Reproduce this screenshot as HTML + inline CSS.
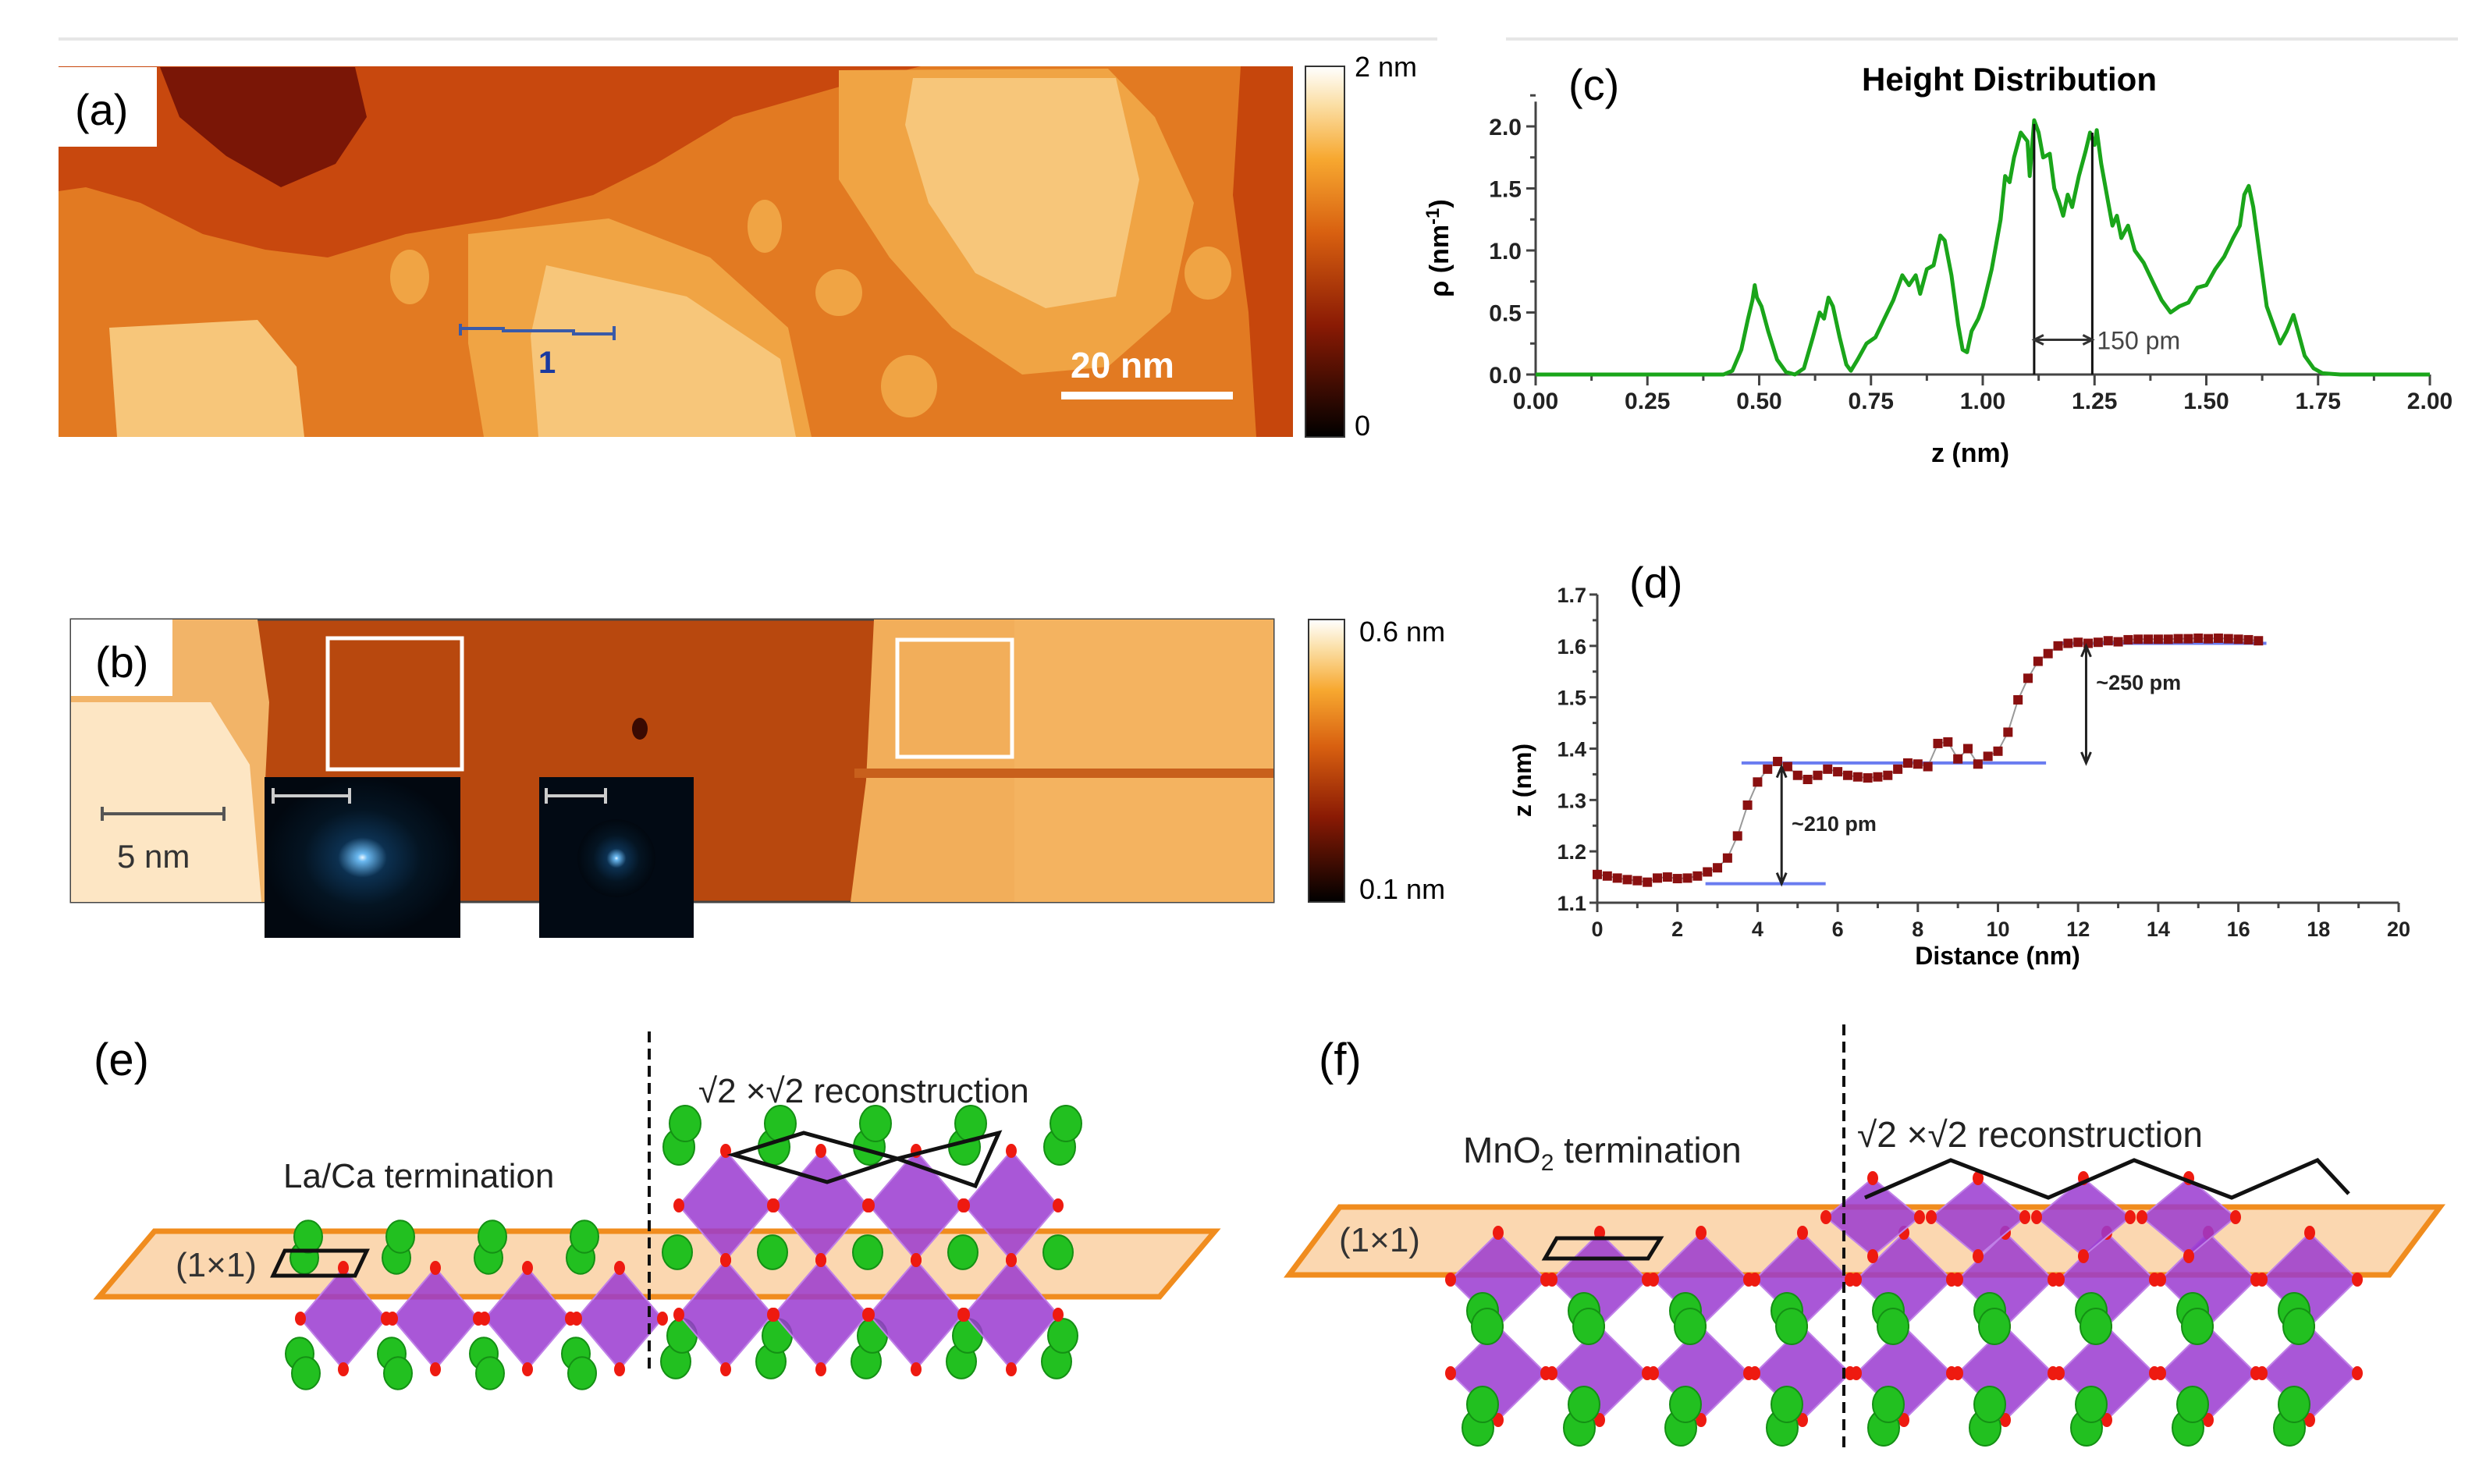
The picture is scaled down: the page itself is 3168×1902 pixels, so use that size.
<!DOCTYPE html>
<html><head><meta charset="utf-8"><style>
html,body{margin:0;padding:0;background:#fff}
svg{display:block}
text{font-family:"Liberation Sans",sans-serif}
</style></head><body>
<svg id="fig" width="3168" height="1902" viewBox="0 0 3168 1902" xmlns="http://www.w3.org/2000/svg">
<defs>
<linearGradient id="cbar" x1="0" y1="1" x2="0" y2="0">
<stop offset="0" stop-color="#000"/><stop offset="0.3" stop-color="#8a1a04"/><stop offset="0.55" stop-color="#d86010"/><stop offset="0.75" stop-color="#f7a830"/><stop offset="0.9" stop-color="#fbe0a8"/><stop offset="1" stop-color="#fff"/>
</linearGradient>
<radialGradient id="fft"><stop offset="0" stop-color="#e8f6ff"/><stop offset="0.05" stop-color="#6ab8f0"/><stop offset="0.25" stop-color="#0c3050"/><stop offset="0.6" stop-color="#041422"/><stop offset="1" stop-color="#020810"/></radialGradient>
</defs>
<line x1="75" y1="50" x2="1842" y2="50" stroke="#e6e6e6" stroke-width="4"/>
<line x1="1930" y1="50" x2="3150" y2="50" stroke="#e6e6e6" stroke-width="4"/>

<!-- (a) STM image -->
<g>
<rect x="75" y="85" width="1582" height="475" fill="#e27a22"/>
<path d="M75 85 L1180 85 L1080 110 L940 150 L840 210 L760 250 L640 280 L520 300 L420 330 L340 320 L260 300 L180 260 L110 240 L75 245 Z" fill="#c8480e"/>
<path d="M205 86 L455 86 L470 150 L430 210 L360 240 L290 200 L230 150 Z" fill="#7a1606"/>
<path d="M1590 85 L1657 85 L1657 560 L1610 560 L1600 400 L1580 250 Z" fill="#c6460c"/>
<path d="M1075 90 L1420 88 L1480 150 L1530 260 L1500 400 L1420 470 L1310 480 L1220 420 L1140 330 L1075 230 Z" fill="#f0a444"/>
<path d="M1170 100 L1430 100 L1460 230 L1430 380 L1340 395 L1250 350 L1190 260 L1160 160 Z" fill="#f7c67a"/>
<path d="M600 300 L780 280 L910 330 L1010 420 L1040 560 L620 560 L600 440 Z" fill="#f0a444"/>
<path d="M700 340 L880 380 L1000 460 L1020 560 L690 560 L680 430 Z" fill="#f7c67a"/>
<path d="M140 420 L330 410 L380 470 L390 560 L150 560 Z" fill="#f7c67a"/>
<ellipse cx="525" cy="355" rx="25" ry="35" fill="#f0a444"/>
<ellipse cx="980" cy="290" rx="22" ry="34" fill="#f0a444"/>
<ellipse cx="1075" cy="375" rx="30" ry="30" fill="#f0a444"/>
<ellipse cx="1165" cy="495" rx="36" ry="40" fill="#f0a444"/>
<ellipse cx="1548" cy="350" rx="30" ry="34" fill="#f0a444"/>
<rect x="75" y="86" width="126" height="102" fill="#fff"/>
<text x="96" y="160" font-size="56">(a)</text>
<path d="M590 415 L590 430 M590 421 L645 421 L645 424 L735 424 L735 428 L787 428 M787 418 L787 436" stroke="#3a5aa8" stroke-width="4" fill="none"/>
<text x="690" y="478" font-size="40" font-weight="bold" fill="#1a3aa0">1</text>
<text x="1372" y="484" font-size="46" font-weight="bold" fill="#fff">20 nm</text>
<rect x="1360" y="502" width="220" height="10" fill="#fff"/>
</g>
<rect x="1673" y="85" width="50" height="475" fill="url(#cbar)" stroke="#333" stroke-width="2"/>
<text x="1736" y="98" font-size="36">2 nm</text>
<text x="1736" y="558" font-size="36">0</text>

<!-- (b) STM image -->
<g>
<rect x="91" y="794" width="1541" height="362" fill="#b8480e" stroke="#444" stroke-width="3"/>
<path d="M91 794 L330 794 L345 900 L340 1000 L360 1156 L91 1156 Z" fill="#f2b468"/>
<path d="M91 900 L270 900 L320 980 L335 1156 L91 1156 Z" fill="#fde6c4"/>
<path d="M1120 794 L1632 794 L1632 1156 L1090 1156 L1110 1000 Z" fill="#f2ae5a"/>
<path d="M1300 794 L1632 794 L1632 1156 L1300 1156 Z" fill="#f5b866" opacity="0.5"/>
<rect x="1095" y="985" width="537" height="12" fill="#c8601c"/>
<rect x="420" y="818" width="172" height="168" fill="none" stroke="#fff" stroke-width="5"/>
<rect x="1150" y="820" width="147" height="150" fill="none" stroke="#fff" stroke-width="5"/>
<ellipse cx="820" cy="934" rx="10" ry="14" fill="#3a0a02"/>
<rect x="91" y="794" width="130" height="98" fill="#fff"/>
<text x="122" y="868" font-size="56">(b)</text>
<path d="M131 1034 L131 1052 M131 1043 L287 1043 M287 1034 L287 1052" stroke="#555" stroke-width="4"/>
<text x="150" y="1112" font-size="42" fill="#333">5 nm</text>
<rect x="339" y="996" width="251" height="206" fill="url(#fft)"/>
<path d="M350 1010 L350 1030 M350 1020 L448 1020 M448 1010 L448 1030" stroke="#ccc" stroke-width="4"/>
<rect x="691" y="996" width="198" height="206" fill="#020a14"/>
<circle cx="790" cy="1100" r="50" fill="url(#fft)"/>
<path d="M700 1010 L700 1030 M700 1020 L776 1020 M776 1010 L776 1030" stroke="#ccc" stroke-width="4"/>
</g>
<rect x="1677" y="794" width="46" height="362" fill="url(#cbar)" stroke="#333" stroke-width="2"/>
<text x="1742" y="822" font-size="36">0.6 nm</text>
<text x="1742" y="1152" font-size="36">0.1 nm</text>

<g id="chartC"></g>
<g id="chartD"></g>
<g id="structE"></g>
<g id="structF"></g>
<text x="120" y="1378" font-size="58">(e)</text>
<text x="1690" y="1378" font-size="58">(f)</text>
</svg>
<script>
// ---------- Chart (c) data ----------
const zVals=[0,0.42,0.44,0.46,0.475,0.485,0.49,0.495,0.505,0.52,0.54,0.56,0.58,0.60,0.62,0.635,0.645,0.655,0.665,0.68,0.695,0.705,0.72,0.74,0.76,0.78,0.80,0.82,0.835,0.85,0.86,0.875,0.89,0.905,0.915,0.93,0.945,0.955,0.965,0.975,0.99,1.0,1.02,1.04,1.05,1.06,1.07,1.085,1.10,1.105,1.115,1.125,1.135,1.15,1.16,1.17,1.18,1.19,1.2,1.215,1.23,1.24,1.25,1.255,1.265,1.28,1.29,1.30,1.31,1.325,1.34,1.36,1.38,1.40,1.42,1.44,1.46,1.48,1.50,1.52,1.54,1.56,1.575,1.585,1.595,1.605,1.62,1.635,1.65,1.665,1.68,1.695,1.705,1.72,1.74,1.76,1.8,2.0];
const rhoVals=[0,0,0.03,0.2,0.45,0.6,0.72,0.62,0.55,0.35,0.12,0.02,0.0,0.05,0.3,0.5,0.45,0.62,0.55,0.3,0.08,0.03,0.12,0.25,0.3,0.45,0.6,0.8,0.72,0.8,0.65,0.85,0.88,1.12,1.08,0.8,0.4,0.2,0.18,0.35,0.45,0.55,0.85,1.25,1.6,1.55,1.75,1.95,1.88,1.6,2.05,1.95,1.75,1.78,1.5,1.4,1.28,1.45,1.35,1.6,1.8,1.95,1.85,1.97,1.7,1.4,1.2,1.28,1.1,1.2,1.0,0.9,0.75,0.6,0.5,0.55,0.58,0.7,0.72,0.85,0.95,1.1,1.2,1.45,1.52,1.35,0.95,0.55,0.4,0.25,0.35,0.48,0.35,0.15,0.05,0.01,0,0];
const cXTicks=["0.00","0.25","0.50","0.75","1.00","1.25","1.50","1.75","2.00"];
const cYTicks=["0.0","0.5","1.0","1.5","2.0"];
const cMarkers=[1.115,1.245];
// ---------- Chart (d) data ----------
const dDist=[0,0.25,0.5,0.75,1,1.25,1.5,1.75,2,2.25,2.5,2.75,3,3.25,3.5,3.75,4,4.25,4.5,4.75,5,5.25,5.5,5.75,6,6.25,6.5,6.75,7,7.25,7.5,7.75,8,8.25,8.5,8.75,9,9.25,9.5,9.75,10,10.25,10.5,10.75,11,11.25,11.5,11.75,12,12.25,12.5,12.75,13,13.25,13.5,13.75,14,14.25,14.5,14.75,15,15.25,15.5,15.75,16,16.25,16.5];
const dZ=[1.155,1.152,1.148,1.145,1.143,1.14,1.148,1.15,1.147,1.148,1.152,1.16,1.168,1.187,1.23,1.29,1.335,1.36,1.375,1.365,1.348,1.34,1.348,1.36,1.355,1.348,1.345,1.343,1.345,1.348,1.36,1.372,1.37,1.365,1.41,1.413,1.38,1.4,1.37,1.385,1.395,1.432,1.495,1.537,1.57,1.585,1.6,1.605,1.607,1.605,1.607,1.61,1.608,1.612,1.613,1.613,1.613,1.613,1.614,1.614,1.615,1.614,1.615,1.614,1.613,1.612,1.61];
const dXTicks=[0,2,4,6,8,10,12,14,16,18,20];
const dYTicks=["1.1","1.2","1.3","1.4","1.5","1.6","1.7"];
const dLevels=[[2.7,5.7,1.137],[3.6,11.2,1.372],[11.4,16.7,1.605]];

const NS="http://www.w3.org/2000/svg";
function mk(parent,tag,attrs,txt){const e=document.createElementNS(NS,tag);for(const k in attrs)e.setAttribute(k,attrs[k]);if(txt!==undefined)e.textContent=txt;parent.appendChild(e);return e;}

// Chart C
(function(){
const g=document.getElementById('chartC');
const X0=1968,X1=3114,Y0=480,Y1=162;
const sx=z=>X0+z*(X1-X0)/2, sy=r=>Y0-r*(Y0-Y1)/2;
const t=mk(g,'text',{x:2575,y:116,'font-size':42,'font-weight':'bold','text-anchor':'middle'},'Height Distribution');


const lc=mk(g,'text',{x:2010,y:128,'font-size':56},'(c)');


const ax=mk(g,'path',{d:`M${X0} ${sy(2.2)} L${X0} ${Y0} L${X1} ${Y0}`,stroke:'#444','stroke-width':3,fill:'none'});


cXTicks.forEach((lab,i)=>{const z=+lab;const x=sx(z);
 mk(g,'line',{x1:x,y1:Y0,x2:x,y2:Y0+14,stroke:'#444','stroke-width':3});
 if(i<cXTicks.length-1)mk(g,'line',{x1:sx(z+0.125),y1:Y0,x2:sx(z+0.125),y2:Y0+8,stroke:'#444','stroke-width':3});
 const tl=mk(g,'text',{x:x,y:524,'font-size':30,'font-weight':'bold','text-anchor':'middle',fill:'#222'},lab);
 
 });
cYTicks.forEach((lab,i)=>{const v=+lab;const y=sy(v);
 mk(g,'line',{x1:X0-12,y1:y,x2:X0,y2:y,stroke:'#444','stroke-width':3});
 mk(g,'line',{x1:X0-7,y1:sy(v+0.25),x2:X0,y2:sy(v+0.25),stroke:'#444','stroke-width':3});
 const tl=mk(g,'text',{x:X0-18,y:y+11,'font-size':30,'font-weight':'bold','text-anchor':'end',fill:'#222'},lab);
 
 });
const xl=mk(g,'text',{x:2525,y:592,'font-size':34,'font-weight':'bold','text-anchor':'middle'},'z (nm)');


const yl=mk(g,'text',{x:0,y:0,'font-size':34,'font-weight':'bold','text-anchor':'middle',transform:'translate(1856,318) rotate(-90)'},'ρ (nm');


mk(yl,'tspan',{'font-size':24,dy:-12},'-1');
mk(yl,'tspan',{dy:12},')');
let d='';zVals.forEach((z,i)=>{d+=(i?'L':'M')+sx(z).toFixed(1)+' '+sy(rhoVals[i]).toFixed(1)+' ';});
const ln=mk(g,'path',{d:d,stroke:'#1aa51a','stroke-width':5,fill:'none','stroke-linejoin':'round'});


cMarkers.forEach((z,i)=>{const m=mk(g,'line',{x1:sx(z),y1:Y0,x2:sx(z),y2:sy(i?1.95:2.02),stroke:'#111','stroke-width':3});
 
 });
const ay=sy(0.28);
mk(g,'path',{d:`M${sx(cMarkers[0])} ${ay} L${sx(cMarkers[1])} ${ay} M${sx(cMarkers[0])+12} ${ay-6} L${sx(cMarkers[0])} ${ay} L${sx(cMarkers[0])+12} ${ay+6} M${sx(cMarkers[1])-12} ${ay-6} L${sx(cMarkers[1])} ${ay} L${sx(cMarkers[1])-12} ${ay+6}`,stroke:'#333','stroke-width':3,fill:'none'});
const al=mk(g,'text',{x:sx(cMarkers[1])+6,y:ay+12,'font-size':32,fill:'#444'},'150 pm');


})();

// Chart D
(function(){
const g=document.getElementById('chartD');
const X0=2047,X1=3074,Y0=1157,Y1=762;
const sx=v=>X0+v*(X1-X0)/20, sy=z=>Y0-(z-1.1)*(Y0-Y1)/0.6;
const lc=mk(g,'text',{x:2088,y:766,'font-size':56},'(d)');


const ax=mk(g,'path',{d:`M${X0} ${Y1} L${X0} ${Y0} L${X1} ${Y0}`,stroke:'#444','stroke-width':3,fill:'none'});


dXTicks.forEach((v,i)=>{const x=sx(v);
 mk(g,'line',{x1:x,y1:Y0,x2:x,y2:Y0+12,stroke:'#444','stroke-width':3});
 if(i<dXTicks.length-1)mk(g,'line',{x1:sx(v+1),y1:Y0,x2:sx(v+1),y2:Y0+7,stroke:'#444','stroke-width':3});
 const tl=mk(g,'text',{x:x,y:1200,'font-size':27,'font-weight':'bold','text-anchor':'middle',fill:'#222'},String(v));
 
 });
dYTicks.forEach(lab=>{const v=+lab;const y=sy(v);
 mk(g,'line',{x1:X0-10,y1:y,x2:X0,y2:y,stroke:'#444','stroke-width':3});
 if(v<1.65)mk(g,'line',{x1:X0-6,y1:sy(v+0.05),x2:X0,y2:sy(v+0.05),stroke:'#444','stroke-width':3});
 const tl=mk(g,'text',{x:X0-14,y:y+10,'font-size':27,'font-weight':'bold','text-anchor':'end',fill:'#222'},lab);
 
 });
const xl=mk(g,'text',{x:2560,y:1236,'font-size':32,'font-weight':'bold','text-anchor':'middle'},'Distance (nm)');


const yl=mk(g,'text',{x:0,y:0,'font-size':32,'font-weight':'bold','text-anchor':'middle',transform:'translate(1962,1000) rotate(-90)'},'z (nm)');


dLevels.forEach(l=>{const b=mk(g,'line',{x1:sx(l[0]),x2:sx(l[1]),y1:sy(l[2]),y2:sy(l[2]),stroke:'#6a7cf0','stroke-width':4});
 
 });
let d='';dDist.forEach((v,i)=>{d+=(i?'L':'M')+sx(v).toFixed(1)+' '+sy(dZ[i]).toFixed(1)+' ';});
mk(g,'path',{d:d,stroke:'#999','stroke-width':2,fill:'none'});
dDist.forEach((v,i)=>{const p=mk(g,'rect',{x:sx(v)-6,y:sy(dZ[i])-6,width:12,height:12,fill:'#8a1010'});
 
 });
function arrow(x,ya,yb){mk(g,'path',{d:`M${x} ${ya} L${x} ${yb} M${x-6} ${ya+14} L${x} ${ya} L${x+6} ${ya+14} M${x-6} ${yb-14} L${x} ${yb} L${x+6} ${yb-14}`,stroke:'#222','stroke-width':3,fill:'none'});}
arrow(sx(4.6),sy(1.365),sy(1.137));
arrow(sx(12.2),sy(1.6),sy(1.372));
const a1=mk(g,'text',{x:sx(4.85),y:sy(1.24),'font-size':27,'font-weight':'bold',fill:'#222'},'~210 pm');


const a2=mk(g,'text',{x:sx(12.45),y:sy(1.515),'font-size':27,'font-weight':'bold',fill:'#222'},'~250 pm');


})();

// Crystal structures (illustrations)
function octa(g,cx,cy,w,h){mk(g,'polygon',{points:`${cx},${cy-h/2} ${cx+w/2},${cy} ${cx},${cy+h/2} ${cx-w/2},${cy}`,fill:'#9a3ad0','fill-opacity':0.85,stroke:'#c080e8','stroke-width':2});
 [[cx,cy-h/2],[cx+w/2,cy],[cx,cy+h/2],[cx-w/2,cy]].forEach(p=>mk(g,'ellipse',{cx:p[0],cy:p[1],rx:7,ry:9,fill:'#ee1a10'}));}
function ball(g,x,y,r){mk(g,'ellipse',{cx:x,cy:y,rx:r,ry:r*1.15,fill:'#22c020',stroke:'#149014','stroke-width':2});}
(function(){
const g=document.getElementById('structE');
const pl=mk(g,'polygon',{points:'127,1662 198,1578 1557,1578 1486,1662',fill:'#fbd7b0',stroke:'#f08c1e','stroke-width':7});


for(let i=0;i<4;i++){const x=390+i*118;ball(g,x,1612,18);ball(g,x+5,1585,18);ball(g,x-6,1735,18);ball(g,x+2,1760,18);}
for(let i=0;i<4;i++)octa(g,440+i*118,1690,110,130);
for(let i=0;i<5;i++){const x=870+i*122;ball(g,x,1470,20);ball(g,x+8,1440,20);ball(g,x-2,1605,19);ball(g,x-4,1745,19);ball(g,x+4,1712,19);}
for(let i=0;i<4;i++){octa(g,930+i*122,1545,120,140);octa(g,930+i*122,1685,120,140);}
mk(g,'path',{d:'M940 1480 L1030 1452 L1150 1485 L1060 1515 Z M1150 1485 L1280 1452 L1250 1520 Z',stroke:'#111','stroke-width':5,fill:'none'});
mk(g,'polygon',{points:'365,1603 470,1603 455,1635 350,1635',fill:'none',stroke:'#111','stroke-width':5});
const l1=mk(g,'text',{x:225,y:1636,'font-size':44,fill:'#333'},'(1×1)');


const l2=mk(g,'text',{x:363,y:1522,'font-size':44,fill:'#222'},'La/Ca termination');


const l3=mk(g,'text',{x:895,y:1413,'font-size':44,fill:'#222'},'√2 ×√2 reconstruction');


const dl=mk(g,'line',{x1:832,y1:1322,x2:832,y2:1760,stroke:'#111','stroke-width':4,'stroke-dasharray':'14 8'});


})();
(function(){
const g=document.getElementById('structF');
const pl=mk(g,'polygon',{points:'1652,1634 1717,1547 3127,1547 3062,1634',fill:'#fbd7b0',stroke:'#f08c1e','stroke-width':7});


for(let i=0;i<9;i++){const x=1920+i*130;octa(g,x,1640,122,120);octa(g,x,1760,122,120);}
for(let i=0;i<9;i++){const x=1900+i*130;ball(g,x,1680,20);ball(g,x+6,1700,20);ball(g,x-6,1830,20);ball(g,x,1800,20);}
for(let i=0;i<4;i++)octa(g,2400+i*135,1560,120,100);
mk(g,'path',{d:'M2390 1535 L2500 1487 L2625 1535 L2735 1487 L2860 1535 L2970 1487 L3010 1530',stroke:'#111','stroke-width':5,fill:'none'});
mk(g,'polygon',{points:'1995,1587 2128,1587 2112,1613 1980,1613',fill:'none',stroke:'#111','stroke-width':5});
const l1=mk(g,'text',{x:1716,y:1604,'font-size':44,fill:'#333'},'(1×1)');


const l2=mk(g,'text',{x:1875,y:1490,'font-size':46,fill:'#222'},'MnO');


mk(l2,'tspan',{'font-size':30,dy:10},'2');
mk(l2,'tspan',{dy:-10},' termination');
const l3=mk(g,'text',{x:2380,y:1470,'font-size':46,fill:'#222'},'√2 ×√2 reconstruction');


const dl=mk(g,'line',{x1:2363,y1:1313,x2:2363,y2:1860,stroke:'#111','stroke-width':4,'stroke-dasharray':'14 8'});


})();
</script>
</body></html>
